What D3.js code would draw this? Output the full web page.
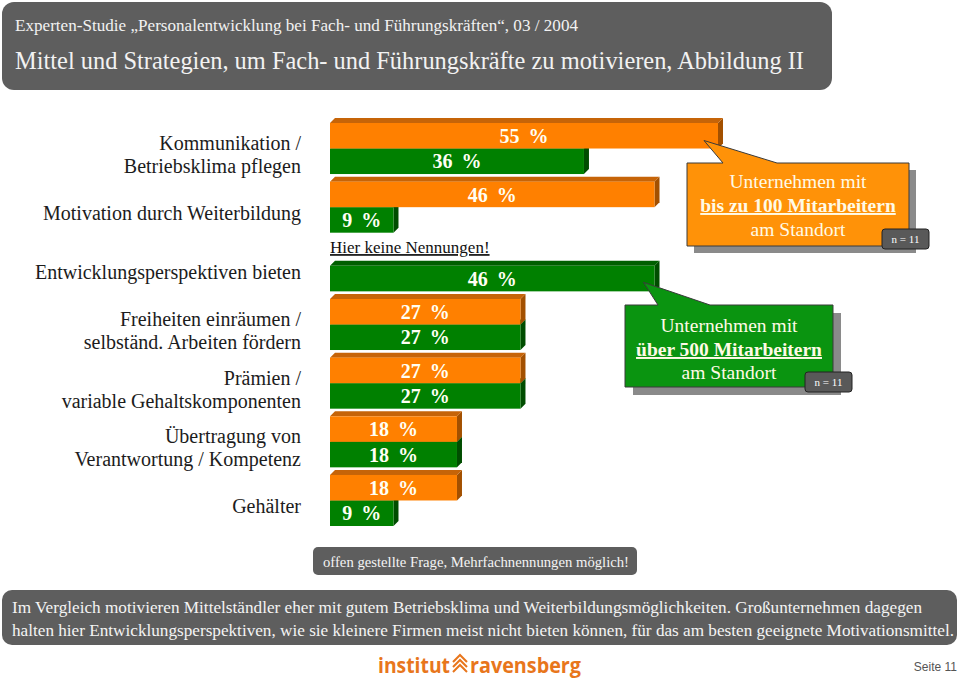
<!DOCTYPE html>
<html>
<head>
<meta charset="utf-8">
<script src="https://cdn.jsdelivr.net/npm/d3@7"></script>
<style>
  body { margin: 0; background: #fff; }
  svg { display: block; font-family: "Liberation Serif", "Times New Roman", serif; }
</style>
</head>
<body>
<div id="chart"></div>
<script>
// Kategorien (Zeilen der Beschriftung links)
const categories = [
  ["Kommunikation /", "Betriebsklima pflegen"],
  ["Motivation durch Weiterbildung"],
  ["Entwicklungsperspektiven bieten"],
  ["Freiheiten einräumen /", "selbständ. Arbeiten fördern"],
  ["Prämien /", "variable Gehaltskomponenten"],
  ["Übertragung von", "Verantwortung / Kompetenz"],
  ["Gehälter"]
];
// Unternehmen bis zu 100 Mitarbeitern (orange), null = keine Nennungen
const smallFirms = [55, 46, null, 27, 27, 18, 18];
// Unternehmen über 500 Mitarbeitern (grün)
const largeFirms = [36, 9, 46, 27, 27, 18, 9];

const width = 960;
const height = 679;
const depth = 5;

const colors = {
  orange: {front: '#ff8000', top: '#c66408', side: '#a35000'},
  green: {front: '#008000', top: '#005f00', side: '#004d00'}
};

const svg = d3.select('#chart').append('svg')
  .attr('width', width)
  .attr('height', height);

// Header
svg.append('rect')
  .attr('x', 2).attr('y', 2).attr('width', 830).attr('height', 88)
  .attr('rx', 12).attr('fill', '#5e5e5e');

svg.append('text')
  .attr('x', 15).attr('y', 31)
  .attr('fill', '#f2f2f2')
  .style('font-size', '17px')
  .attr('textLength', 563).attr('lengthAdjust', 'spacingAndGlyphs')
  .text('Experten-Studie \u201EPersonalentwicklung bei Fach- und Führungskräften\u201C, 03 / 2004');

svg.append('text')
  .attr('x', 15).attr('y', 69)
  .attr('fill', '#f2f2f2')
  .style('font-size', '25px')
  .attr('textLength', 789).attr('lengthAdjust', 'spacingAndGlyphs')
  .text('Mittel und Strategien, um Fach- und Führungskräfte zu motivieren, Abbildung II');

// Scales
const x = d3.scaleLinear()
  .domain([0, 55])
  .range([330, 718]);

const y = d3.scaleBand()
  .domain(d3.range(categories.length))
  .range([123, 526])
  .paddingInner(0.13)
  .paddingOuter(0);

const bw = y.bandwidth();
const barH = bw / 2;

// Category labels
const labelG = svg.append('g');
categories.forEach((lines, i) => {
  const cy = y(i) + bw / 2 + 7;
  const lineH = 23;
  lines.forEach((line, j) => {
    labelG.append('text')
      .attr('x', 301)
      .attr('y', cy + (j - (lines.length - 1) / 2) * lineH + 6)
      .attr('text-anchor', 'end')
      .attr('fill', '#1c1c1c')
      .style('font-size', '20px')
      .text(line);
  });
});

// 3D bar helper
function bar3d(g, value, y0, pal) {
  const x0 = x(0), x1 = x(value), y1 = y0 + barH;
  g.append('path')
    .attr('d', `M${x1},${y0}L${x1 + depth},${y0 - depth}L${x1 + depth},${y1 - depth}L${x1},${y1}Z`)
    .attr('fill', pal.side);
  g.append('path')
    .attr('d', `M${x0},${y0}L${x0 + depth},${y0 - depth}L${x1 + depth},${y0 - depth}L${x1},${y0}Z`)
    .attr('fill', pal.top);
  g.append('rect')
    .attr('x', x0).attr('y', y0)
    .attr('width', x1 - x0).attr('height', barH)
    .attr('fill', pal.front);
  g.append('text')
    .attr('x', (x0 + x1) / 2)
    .attr('y', y0 + barH / 2)
    .attr('dy', '0.36em')
    .attr('text-anchor', 'middle')
    .attr('fill', '#fffff4')
    .style('font-size', '20px')
    .style('font-weight', 'bold')
    .style('word-spacing', '4px')
    .text(`${value} %`);
}

const barsG = svg.append('g');
categories.forEach((c, i) => {
  const g = barsG.append('g');
  // green first so that orange covers its top face
  if (largeFirms[i] != null) bar3d(g, largeFirms[i], y(i) + barH, colors.green);
  if (smallFirms[i] != null) {
    bar3d(g, smallFirms[i], y(i), colors.orange);
  } else {
    g.append('text')
      .attr('x', x(0))
      .attr('y', y(i) + barH / 2)
      .attr('fill', '#111')
      .style('font-size', '17px')
      .style('text-decoration', 'underline')
      .text('Hier keine Nennungen!');
  }
});

// Callouts
function callout(opts) {
  const {left, top, right, bottom, baseL, baseR, apex, fill, lines, n, shadow} = opts;
  const d = `M${left},${top}L${baseL},${top}L${apex[0]},${apex[1]}L${baseR},${top}L${right},${top}L${right},${bottom}L${left},${bottom}Z`;
  const g = svg.append('g');
  g.append('rect')
    .attr('x', left + shadow).attr('y', top + shadow)
    .attr('width', right - left).attr('height', bottom - top)
    .attr('fill', '#8a8a8a');
  g.append('path')
    .attr('d', d)
    .attr('fill', fill)
    .attr('stroke', '#3a3a3a')
    .attr('stroke-width', 1);
  const cx = (left + right) / 2;
  lines.forEach(l => {
    g.append('text')
      .attr('x', cx).attr('y', l.y)
      .attr('text-anchor', 'middle')
      .attr('fill', '#fffae6')
      .style('font-size', '19.5px')
      .style('font-weight', l.bold ? 'bold' : 'normal')
      .style('text-decoration', l.bold ? 'underline' : 'none')
      .text(l.text);
  });
  g.append('rect')
    .attr('x', n[0]).attr('y', n[1]).attr('width', 47).attr('height', 20)
    .attr('rx', 3)
    .attr('fill', '#595959')
    .attr('stroke', '#222');
  g.append('text')
    .attr('x', n[0] + 23.5).attr('y', n[1] + 14)
    .attr('text-anchor', 'middle')
    .attr('fill', '#fff')
    .style('font-size', '11px')
    .text('n = 11');
}

callout({
  left: 687, top: 163, right: 909, bottom: 246,
  baseL: 723, baseR: 777,
  apex: [x(smallFirms[0]) - 14, y(0) + barH - 8],
  fill: '#ff9208',
  shadow: 7,
  n: [882, 229],
  lines: [
    {text: 'Unternehmen mit', y: 188},
    {text: 'bis zu 100 Mitarbeitern', y: 212, bold: true},
    {text: 'am Standort', y: 236}
  ]
});

callout({
  left: 625, top: 305, right: 833, bottom: 387,
  baseL: 658, baseR: 710,
  apex: [x(largeFirms[2]) - 11, y(2) + bw - 9],
  fill: '#0a9410',
  shadow: 8,
  n: [805, 372],
  lines: [
    {text: 'Unternehmen mit', y: 332},
    {text: 'über 500 Mitarbeitern', y: 356, bold: true},
    {text: 'am Standort', y: 379}
  ]
});

// Note
svg.append('rect')
  .attr('x', 313).attr('y', 547).attr('width', 324).attr('height', 28)
  .attr('rx', 5).attr('fill', '#5e5e5e');
svg.append('text')
  .attr('x', 323).attr('y', 567)
  .attr('fill', '#f4f4f4')
  .style('font-size', '15px')
  .attr('textLength', 306).attr('lengthAdjust', 'spacingAndGlyphs')
  .text('offen gestellte Frage, Mehrfachnennungen möglich!');

// Summary
svg.append('rect')
  .attr('x', 2).attr('y', 590).attr('width', 955).attr('height', 55)
  .attr('rx', 10).attr('fill', '#5e5e5e');
svg.append('text')
  .attr('x', 12).attr('y', 613)
  .attr('fill', '#f4f4f4')
  .style('font-size', '17px')
  .attr('textLength', 910).attr('lengthAdjust', 'spacingAndGlyphs')
  .text('Im Vergleich motivieren Mittelständler eher mit gutem Betriebsklima und Weiterbildungsmöglichkeiten. Großunternehmen dagegen');
svg.append('text')
  .attr('x', 12).attr('y', 636)
  .attr('fill', '#f4f4f4')
  .style('font-size', '17px')
  .attr('textLength', 942).attr('lengthAdjust', 'spacingAndGlyphs')
  .text('halten hier Entwicklungsperspektiven, wie sie kleinere Firmen meist nicht bieten können, für das am besten geeignete Motivationsmittel.');

// Logo
const logoColor = '#e8761c';
svg.append('text')
  .attr('x', 378).attr('y', 673)
  .attr('fill', logoColor)
  .style('font-family', '"Open Sans", "DejaVu Sans", sans-serif')
  .style('font-size', '21px')
  .style('font-weight', 'bold')
  .attr('textLength', 72).attr('lengthAdjust', 'spacingAndGlyphs')
  .text('institut');
svg.append('path')
  .attr('d', 'M453,662L460,655L467,662M453,667L460,660L467,667M453,672L460,665L467,672')
  .attr('fill', 'none')
  .attr('stroke', logoColor)
  .attr('stroke-width', 2);
svg.append('text')
  .attr('x', 470).attr('y', 673)
  .attr('fill', logoColor)
  .style('font-family', '"Open Sans", "DejaVu Sans", sans-serif')
  .style('font-size', '21px')
  .style('font-weight', 'bold')
  .attr('textLength', 111).attr('lengthAdjust', 'spacingAndGlyphs')
  .text('ravensberg');

svg.append('text')
  .attr('x', 957).attr('y', 671)
  .attr('text-anchor', 'end')
  .attr('fill', '#555')
  .style('font-family', '"Liberation Sans", Arial, sans-serif')
  .style('font-size', '12px')
  .text('Seite 11');
</script>
</body>
</html>
